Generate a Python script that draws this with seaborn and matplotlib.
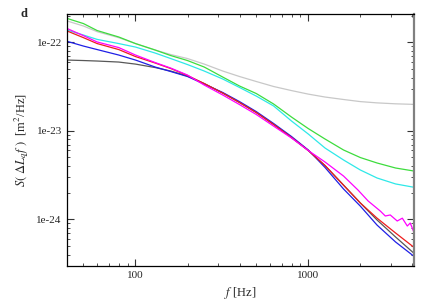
import numpy as np
import pandas as pd
import matplotlib
matplotlib.use('Agg')
import matplotlib.pyplot as plt
import matplotlib.ticker as mticker
import seaborn as sns

# frecuencias comunes [Hz]
freq = [40, 50, 60, 80, 100, 130, 160, 200, 250, 320, 400, 500, 630, 800,
        1000, 1250, 1600, 2000, 2500, 3200, 4100]

# espectros S(f) [m^2/Hz]
s_green = [1.87e-22, 1.63e-22, 1.36e-22, 1.15e-22, 9.69e-23, 8.19e-23, 7.09e-23,
           6.23e-23, 5.26e-23, 4.05e-23, 3.21e-23, 2.64e-23, 2.01e-23, 1.43e-23,
           1.06e-23, 8.08e-24, 6.07e-24, 4.99e-24, 4.33e-24, 3.80e-24, 3.51e-24]
s_lgray = [1.75e-22, 1.53e-22, 1.32e-22, 1.13e-22, 9.69e-23, 8.19e-23, 7.28e-23,
           6.56e-23, 5.68e-23, 4.74e-23, 4.11e-23, 3.61e-23, 3.17e-23, 2.85e-23,
           2.60e-23, 2.41e-23, 2.26e-23, 2.14e-23, 2.07e-23, 2.02e-23, 1.99e-23]
s_cyan = [1.38e-22, 1.21e-22, 1.08e-22, 9.69e-23, 8.85e-23, 7.57e-23, 6.56e-23,
          5.61e-23, 4.74e-23, 3.85e-23, 3.09e-23, 2.47e-23, 1.91e-23, 1.29e-23,
          9.20e-24, 6.39e-24, 4.68e-24, 3.61e-24, 2.93e-24, 2.51e-24, 2.30e-24]
s_red = [1.35e-22, 1.13e-22, 9.69e-23, 8.29e-23, 6.91e-23, 5.84e-23, 5.06e-23,
         4.22e-23, 3.42e-23, 2.67e-23, 2.09e-23, 1.61e-23, 1.18e-23, 8.40e-24,
         5.99e-24, 4.05e-24, 2.43e-24, 1.53e-24, 1.03e-24, 7.00e-25, 4.80e-25]
s_blue = [1.03e-22, 9.08e-23, 8.29e-23, 7.19e-23, 6.31e-23, 5.26e-23, 4.68e-23,
          4.11e-23, 3.38e-23, 2.71e-23, 2.14e-23, 1.65e-23, 1.21e-23, 8.62e-24,
          6.07e-24, 3.85e-24, 2.20e-24, 1.41e-24, 8.60e-25, 5.54e-25, 3.80e-25]
s_dgray = [6.31e-23, 6.23e-23, 6.15e-23, 5.99e-23, 5.68e-23, 5.19e-23, 4.74e-23,
           4.16e-23, 3.42e-23, 2.67e-23, 2.09e-23, 1.61e-23, 1.18e-23, 8.40e-24,
           5.99e-24, 4.05e-24, 2.43e-24, 1.53e-24, 9.82e-25, 6.31e-25, 4.11e-25]

# la curva magenta es mas ruidosa en alta frecuencia
freq_mag = [40, 50, 60, 80, 100, 130, 160, 200, 250, 320, 400, 500, 630, 800,
            1000, 1250, 1600, 1940, 2220, 2610, 2790, 2980, 3270, 3500, 3740,
            3890, 4100]
s_mag = [1.44e-22, 1.19e-22, 1.01e-22, 8.73e-23, 7.19e-23, 5.91e-23, 5.12e-23,
         4.27e-23, 3.29e-23, 2.54e-23, 1.98e-23, 1.53e-23, 1.13e-23, 8.29e-24,
         5.99e-24, 4.44e-24, 3.08e-24, 2.14e-24, 1.61e-24, 1.24e-24, 1.09e-24,
         1.12e-24, 9.57e-25, 1.03e-24, 8.40e-25, 9.08e-25, 7.00e-25]

series = [('lgray', freq, s_lgray), ('green', freq, s_green), ('cyan', freq, s_cyan),
          ('dgray', freq, s_dgray), ('blue', freq, s_blue), ('red', freq, s_red),
          ('mag', freq_mag, s_mag)]
colores = {'lgray': '#c8c8c8', 'green': '#3ddc3d', 'cyan': '#2ee8e8',
           'dgray': '#585858', 'blue': '#1f1fe6', 'red': '#ee1c1c', 'mag': '#ff00ff'}

df = pd.concat([pd.DataFrame({'f': f, 'S': s, 'curva': n}) for n, f, s in series],
               ignore_index=True)

sns.set_style('ticks')
plt.rcParams['font.family'] = ['Liberation Serif', 'DejaVu Serif']
plt.rcParams['mathtext.fontset'] = 'stix'

fig = plt.figure(figsize=(4.36, 3.05), dpi=100)
ax = fig.add_axes([0.153, 0.128, 0.797, 0.826])

sns.lineplot(data=df, x='f', y='S', hue='curva', palette=colores, estimator=None,
             sort=True, linewidth=0.9, legend=False, ax=ax)

ax.set_xscale('log')
ax.set_yscale('log')
ax.set_xlim(40, 4100)
ax.set_ylim(2.97e-25, 2.09e-22)

ax.xaxis.set_major_locator(mticker.FixedLocator([100, 1000]))
ax.xaxis.set_major_formatter(mticker.FuncFormatter(lambda v, p: f'{int(round(v))}'))
ax.xaxis.set_minor_locator(mticker.LogLocator(base=10, subs=np.arange(2, 10)))
ax.xaxis.set_minor_formatter(mticker.NullFormatter())
ax.yaxis.set_major_locator(mticker.FixedLocator([1e-24, 1e-23, 1e-22]))
ax.yaxis.set_major_formatter(mticker.FuncFormatter(lambda v, p: f'1e{int(round(np.log10(v)))}'))
ax.yaxis.set_minor_locator(mticker.LogLocator(base=10, subs=np.arange(2, 10)))
ax.yaxis.set_minor_formatter(mticker.NullFormatter())

ax.tick_params(which='both', direction='in', top=True, right=True, labelsize=8,
               color='#333333')
ax.tick_params(which='major', length=5, width=0.8)
ax.tick_params(which='minor', length=2.5, width=0.6)
for lado in ['left', 'bottom', 'top']:
    ax.spines[lado].set_linewidth(0.9)
    ax.spines[lado].set_color('black')
ax.spines['right'].set_linewidth(1.6)
ax.spines['right'].set_color('#808080')

ax.set_xlabel(r'$f$ [Hz]', fontsize=9, labelpad=4)
ax.set_ylabel(r'$S($ $\Delta L_q f$ $)$  [m$^2$/Hz]', fontsize=9, labelpad=4)

fig.text(0.048, 0.955, 'd', fontsize=9, fontweight='bold', va='center')

fig.savefig('out.png', dpi=100)
